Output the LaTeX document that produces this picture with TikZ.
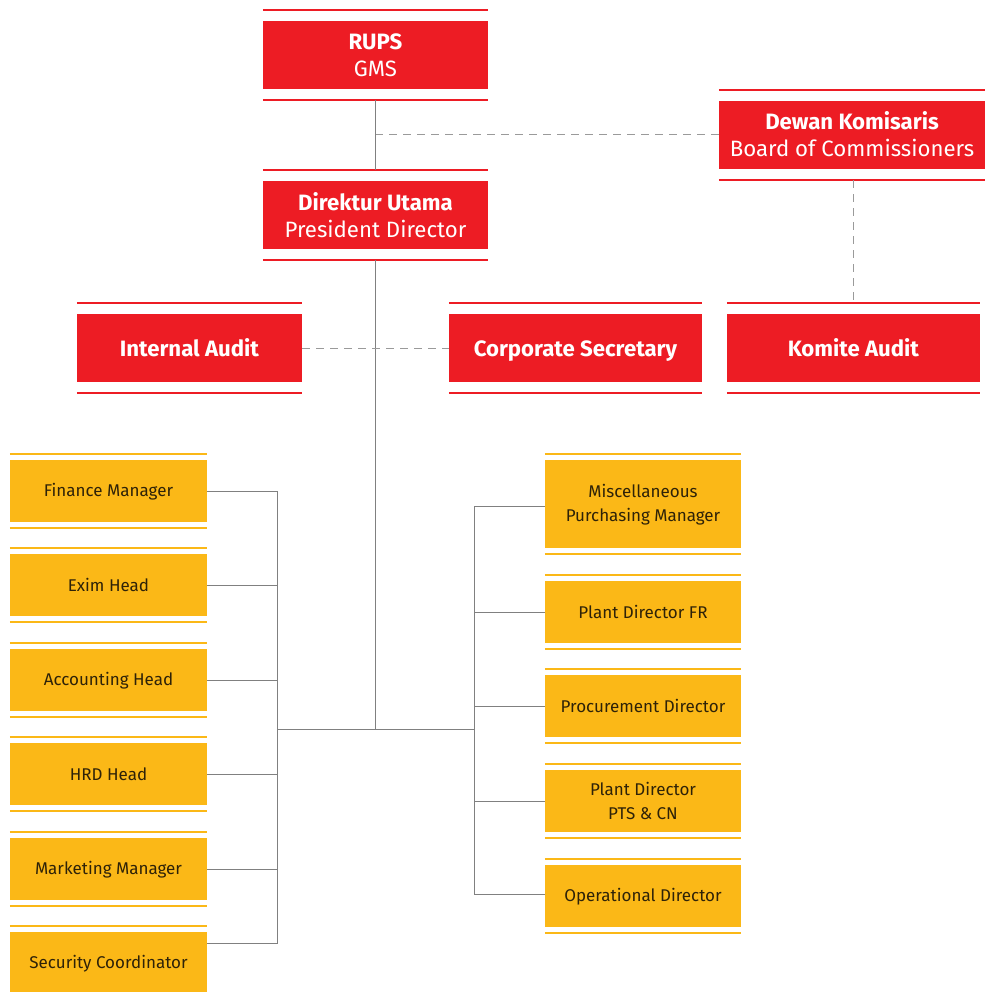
\documentclass[tikz,border=0pt]{standalone}
\usepackage{fontspec}
\setmainfont{Fira Sans}[BoldFont=* Bold]
\definecolor{orgred}{HTML}{ED1C24}
\definecolor{orgyellow}{HTML}{FBB817}
\definecolor{orgtext}{HTML}{2E2208}
\definecolor{conngray}{HTML}{808080}
\definecolor{dashgray}{HTML}{9A9A9A}
\newcommand\rstr{\rule[-4pt]{0pt}{25pt}}
\newcommand\ystr{\rule[-3pt]{0pt}{18pt}}
\tikzset{
  redbox/.style={rectangle, fill=orgred, inner sep=0pt, text=white, align=center,
    font=\fontsize{22.2}{27}\selectfont},
  yelbox/.style={rectangle, fill=orgyellow, inner sep=0pt, text=orgtext, align=center,
    minimum width=197pt, minimum height=62pt, font=\fontsize{17}{24}\selectfont},
  redrule/.style={draw=orgred, line width=2pt},
  yelrule/.style={draw=orgyellow, line width=1.6pt},
  conn/.style={draw=conngray, line width=1pt},
  dashconn/.style={draw=dashgray, line width=1pt, dash pattern=on 8pt off 6pt}
}
\begin{document}
\begin{tikzpicture}[x=1pt,y=-1pt]
\useasboundingbox (0,0) rectangle (985,992);
% red boxes
\node[redbox, minimum width=225pt, minimum height=68pt] (rups) at (375.5,55) {\rstr\textbf{RUPS}\\\rstr GMS};
\node[redbox, minimum width=225pt, minimum height=68pt] (dir) at (375.5,215) {\rstr\textbf{Direktur Utama}\\\rstr President Director};
\node[redbox, minimum width=266pt, minimum height=68pt] (dewan) at (852,135) {\rstr\textbf{Dewan Komisaris}\\\rstr Board of Commissioners};
\node[redbox, minimum width=225pt, minimum height=68pt] (ia) at (189.5,348) {\rstr\textbf{Internal Audit}};
\node[redbox, minimum width=253pt, minimum height=68pt] (cs) at (575.5,348) {\rstr\textbf{Corporate Secretary}};
\node[redbox, minimum width=253pt, minimum height=68pt] (ka) at (853.5,348) {\rstr\textbf{Komite Audit}};
\foreach \n in {rups,dir,dewan,ia,cs,ka}{
  \draw[redrule] ([yshift=11pt]\n.north west) -- ([yshift=11pt]\n.north east);
  \draw[redrule] ([yshift=-11pt]\n.south west) -- ([yshift=-11pt]\n.south east);
}
% left yellow boxes
\node[yelbox] (fin) at (108.5,491) {\ystr Finance Manager};
\node[yelbox] (exim) at (108.5,585) {\ystr Exim Head};
\node[yelbox] (acc) at (108.5,680) {\ystr Accounting Head};
\node[yelbox] (hrd) at (108.5,774) {\ystr HRD Head};
\node[yelbox] (mkt) at (108.5,869) {\ystr Marketing Manager};
\node[yelbox] (sec) at (108.5,963) {\ystr Security Coordinator};
% right yellow boxes
\node[yelbox, minimum width=196pt, minimum height=88pt] (misc) at (643,504) {\ystr Miscellaneous\\\ystr Purchasing Manager};
\node[yelbox, minimum width=196pt] (pfr) at (643,612) {\ystr Plant Director FR};
\node[yelbox, minimum width=196pt] (proc) at (643,706) {\ystr Procurement Director};
\node[yelbox, minimum width=196pt] (pts) at (643,801) {\ystr Plant Director\\\ystr PTS \& CN};
\node[yelbox, minimum width=196pt] (op) at (643,896) {\ystr Operational Director};
\foreach \n in {fin,exim,acc,hrd,mkt,sec,misc,pfr,proc,pts,op}{
  \draw[yelrule] ([yshift=6pt]\n.north west) -- ([yshift=6pt]\n.north east);
  \draw[yelrule] ([yshift=-6pt]\n.south west) -- ([yshift=-6pt]\n.south east);
}
% connectors
\coordinate (lhub) at (277,729);
\coordinate (rhub) at (474,729);
\coordinate (lbot) at (277,943);
\coordinate (rtop) at (474,506);
\coordinate (rbot) at (474,894);
\draw[conn] ([yshift=-11pt]rups.south) -- ([yshift=11pt]dir.north);
\draw[conn] ([yshift=-11pt]dir.south) -- (dir.south |- lhub);
\draw[conn] (lhub) -- (rhub);
\draw[conn] (fin.east) -| (lbot) -- (lbot -| sec.east);
\draw[conn] (exim.east) -- (exim.east -| lbot);
\draw[conn] (acc.east) -- (acc.east -| lbot);
\draw[conn] (hrd.east) -- (hrd.east -| lbot);
\draw[conn] (mkt.east) -- (mkt.east -| lbot);
\draw[conn] (misc.west |- rtop) -- (rtop) -- (rbot) -- (op.west |- rbot);
\draw[conn] (pfr.west) -- (pfr.west -| rtop);
\draw[conn] (proc.west) -- (proc.west -| rtop);
\draw[conn] (pts.west) -- (pts.west -| rtop);
\draw[dashconn] (dewan.west) -- (dewan.west -| rups.south);
\draw[dashconn] ([yshift=-11pt]dewan.south -| ka.north) -- ([yshift=11pt]ka.north);
\draw[dashconn] (ia.east) -- (cs.west);
\end{tikzpicture}
\end{document}
